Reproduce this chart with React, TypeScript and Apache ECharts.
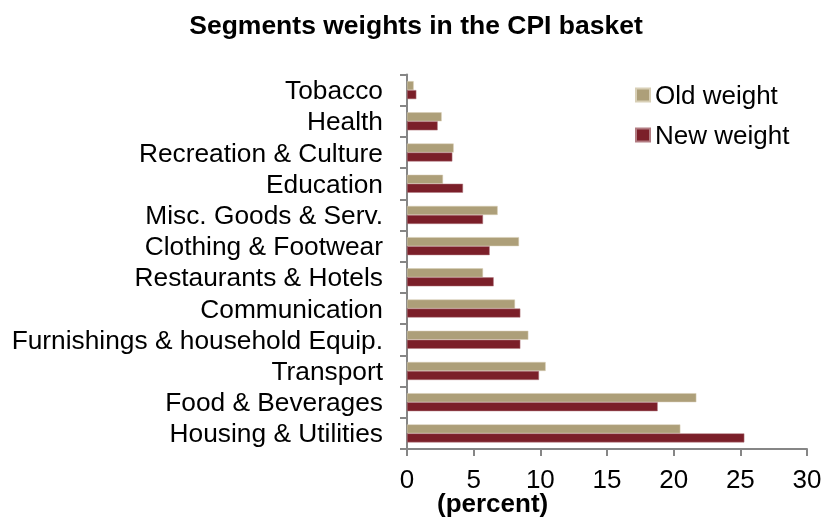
import React, { useEffect, useRef } from "react";
import * as echarts from "echarts";

const categories = [
  "Housing & Utilities",
  "Food & Beverages",
  "Transport",
  "Furnishings & household Equip.",
  "Communication",
  "Restaurants & Hotels",
  "Clothing & Footwear",
  "Misc. Goods & Serv.",
  "Education",
  "Recreation & Culture",
  "Health",
  "Tobacco",
];
const oldWeight = [20.5, 21.7, 10.4, 9.1, 8.1, 5.7, 8.4, 6.8, 2.7, 3.5, 2.6, 0.5];
const newWeight = [25.3, 18.8, 9.9, 8.5, 8.5, 6.5, 6.2, 5.7, 4.2, 3.4, 2.3, 0.7];
const xTicks = [0, 5, 10, 15, 20, 25, 30];

const FONT = "'Liberation Sans', Arial, sans-serif";

export default function App() {
  const ref = useRef<HTMLDivElement>(null);
  useEffect(() => {
    if (!ref.current) return;
    const chart = echarts.init(ref.current, null, { renderer: "svg" });
    chart.setOption({
      animation: false,
      textStyle: { fontFamily: FONT },
      title: {
        text: "Segments weights in the CPI basket",
        left: "center",
        top: 6,
        textStyle: { fontSize: 26.5, fontWeight: "bold", color: "#000", fontFamily: FONT },
      },
      legend: {
        orient: "vertical",
        left: 630,
        top: 77,
        itemWidth: 14,
        itemHeight: 13,
        itemGap: 14,
        icon: "rect",
        textStyle: { fontSize: 26, color: "#000", fontFamily: FONT },
        data: ["Old weight", "New weight"],
      },
      grid: { left: 407, right: 25, top: 74.5, bottom: 69, containLabel: false },
      xAxis: {
        type: "value",
        min: xTicks[0],
        max: xTicks[xTicks.length - 1],
        interval: 5,
        axisLine: { show: true, lineStyle: { color: "#868686", width: 2 } },
        axisTick: { show: true, length: 7, lineStyle: { color: "#868686", width: 2 } },
        splitLine: { show: false },
        axisLabel: { fontSize: 26, color: "#000", margin: 17, fontFamily: FONT },
      },
      yAxis: {
        type: "category",
        data: categories,
        axisLine: { show: true, lineStyle: { color: "#868686", width: 2 } },
        axisTick: { show: true, length: 7, lineStyle: { color: "#868686", width: 2 } },
        axisLabel: { interval: 0, fontSize: 26.3, color: "#000", margin: 24, fontFamily: FONT },
      },
      graphic: [
        {
          type: "text",
          left: 437,
          top: 490,
          style: { text: "(percent)", font: `bold 26px ${FONT}`, fill: "#000" },
        },
      ],
      series: [
        {
          name: "Old weight",
          type: "bar",
          data: oldWeight,
          barWidth: 9,
          barGap: "0%",
          itemStyle: { color: "#AD9F79", borderColor: "#D8CFB6", borderWidth: 0.5 },
        },
        {
          name: "New weight",
          type: "bar",
          data: newWeight,
          barWidth: 9,
          barGap: "0%",
          itemStyle: { color: "#7B1F29", borderColor: "#B27C82", borderWidth: 0.5 },
        },
      ],
    });
    return () => chart.dispose();
  }, []);
  return (
    <div
      ref={ref}
      style={{ position: "fixed", left: 0, top: 0, width: 832, height: 518 }}
    />
  );
}
